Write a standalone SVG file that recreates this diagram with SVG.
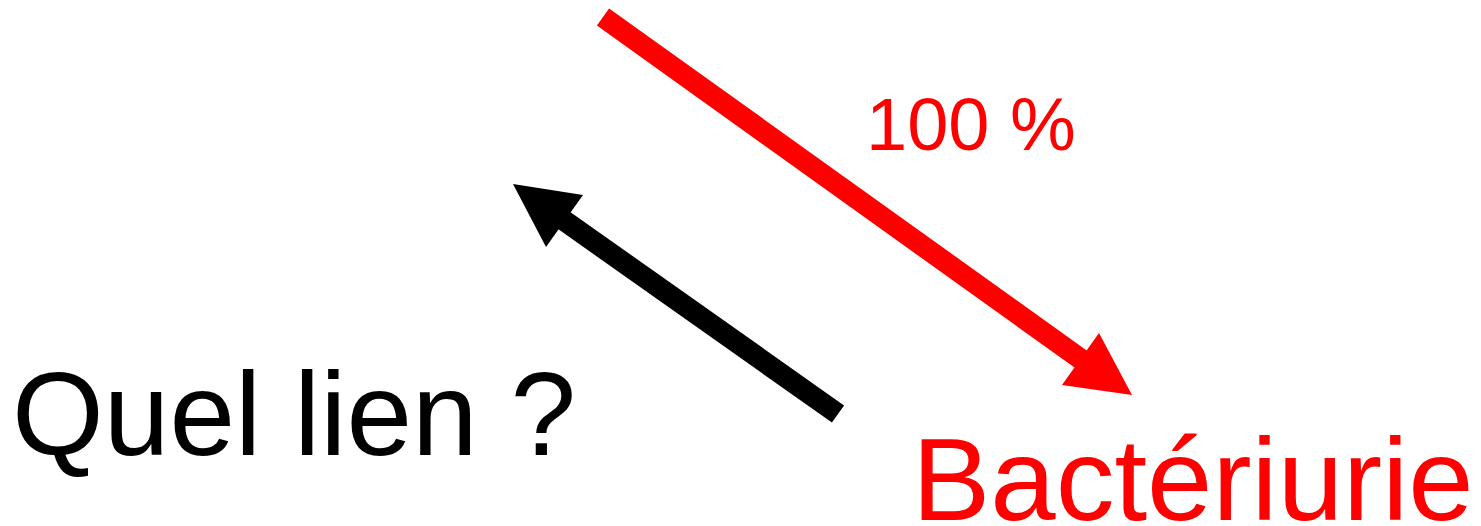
<svg xmlns="http://www.w3.org/2000/svg" width="1481" height="526" viewBox="0 0 1481 526">
<style>
.t{font-family:"Liberation Sans",Arial,sans-serif;}
.red{fill:#ff0000;}
.blk{fill:#000000;}
</style>
<rect width="1481" height="526" fill="#ffffff"/>
<g id="connectors">
<g id="arrow-red">
<line x1="603" y1="17" x2="1082" y2="360" stroke="#ff0000" stroke-width="21"/>
<polygon points="1132,395 1099,333 1062,385" fill="#ff0000"/>
</g>
<g id="arrow-black">
<line x1="838" y1="414" x2="562" y2="219" stroke="#000000" stroke-width="21"/>
<polygon points="513,184 583,195 546,247" fill="#000000"/>
</g>
</g>
<g id="label-100"><text class="t red" x="866" y="150" font-size="74">100 %</text></g>
<g id="node-quel"><text class="t blk" x="12" y="455" font-size="118">Quel lien ?</text></g>
<g id="node-bacteriurie"><text class="t red" x="912" y="520" font-size="117.5">Bactériurie</text></g>
</svg>
